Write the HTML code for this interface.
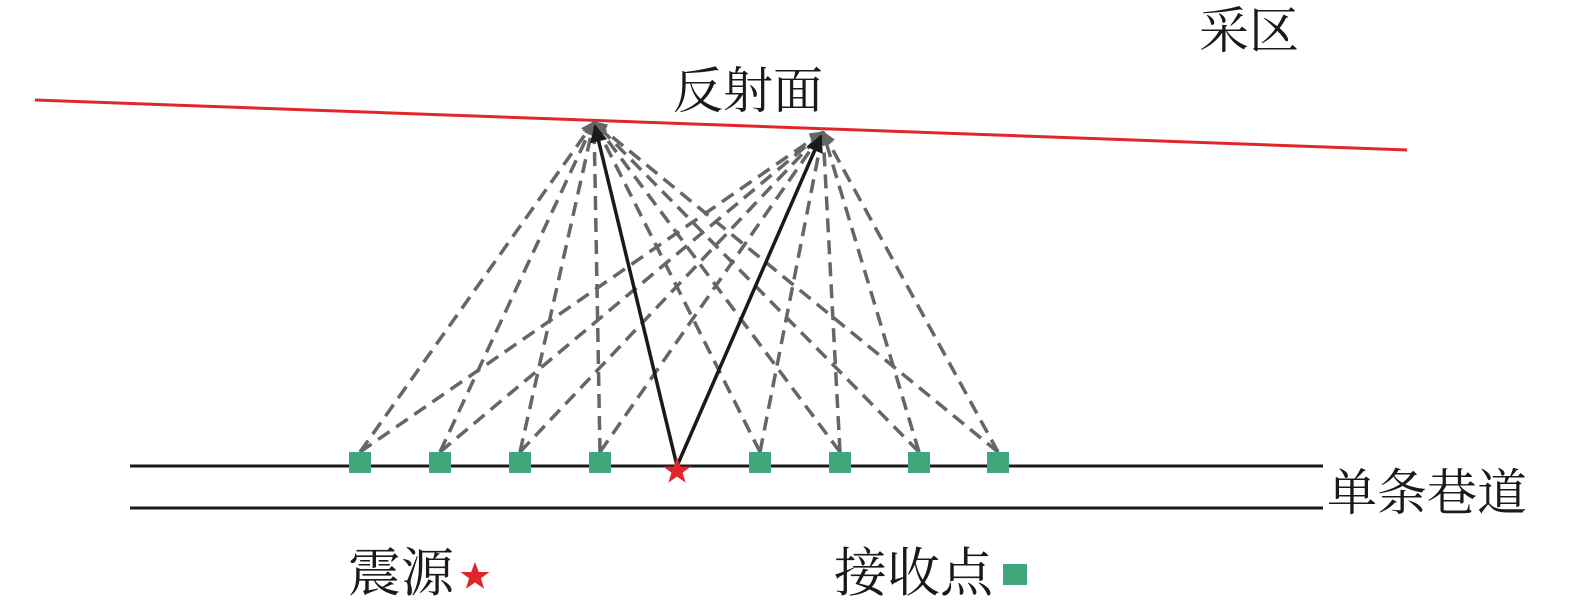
<!DOCTYPE html>
<html><head><meta charset="utf-8"><style>
html,body{margin:0;padding:0;background:#fff;}
svg{display:block;}
text{font-family:"Liberation Serif","Noto Serif CJK SC",serif;fill:#1a1a1a;}
</style></head><body>
<svg width="1575" height="603" viewBox="0 0 1575 603" xmlns="http://www.w3.org/2000/svg">
<defs>
<marker id="ga" viewBox="0 0 10 10" refX="9" refY="5" markerWidth="4" markerHeight="4" orient="auto"><path d="M0,0L10,5L0,10z" fill="#666"/></marker>
<marker id="ba" viewBox="0 0 10 10" refX="9" refY="5" markerWidth="5" markerHeight="5" orient="auto"><path d="M0,0L10,5L0,10z" fill="#1a1a1a"/></marker>
</defs>
<text x="1199" y="48" font-size="50">采区</text>
<text x="673" y="108" font-size="50">反射面</text>
<line x1="35" y1="100" x2="1407" y2="150" stroke="#e0262b" stroke-width="3"/>
<g stroke="#666" stroke-width="3.5" stroke-dasharray="14,8" fill="none" marker-end="url(#ga)">
<line x1="360" y1="452" x2="594" y2="122"/>
<line x1="440" y1="452" x2="594" y2="122"/>
<line x1="520" y1="452" x2="594" y2="122"/>
<line x1="600" y1="452" x2="594" y2="122"/>
<line x1="760" y1="452" x2="594" y2="122"/>
<line x1="840" y1="452" x2="594" y2="122"/>
<line x1="919" y1="452" x2="594" y2="122"/>
<line x1="998" y1="452" x2="594" y2="122"/>
<line x1="360" y1="452" x2="823" y2="132"/>
<line x1="440" y1="452" x2="823" y2="132"/>
<line x1="520" y1="452" x2="823" y2="132"/>
<line x1="600" y1="452" x2="823" y2="132"/>
<line x1="760" y1="452" x2="823" y2="132"/>
<line x1="840" y1="452" x2="823" y2="132"/>
<line x1="919" y1="452" x2="823" y2="132"/>
<line x1="998" y1="452" x2="823" y2="132"/>
</g>
<line x1="130" y1="466" x2="1323" y2="466" stroke="#1a1a1a" stroke-width="3"/>
<line x1="130" y1="508" x2="1323" y2="508" stroke="#1a1a1a" stroke-width="3"/>
<g stroke="#1a1a1a" stroke-width="3.5" marker-end="url(#ba)">
<line x1="677" y1="466" x2="595" y2="126"/>
<line x1="677" y1="466" x2="821" y2="136"/>
</g>
<g fill="#3fa77a">
<rect x="349" y="452" width="22" height="21"/>
<rect x="429" y="452" width="22" height="21"/>
<rect x="509" y="452" width="22" height="21"/>
<rect x="589" y="452" width="22" height="21"/>
<rect x="749" y="452" width="22" height="21"/>
<rect x="829" y="452" width="22" height="21"/>
<rect x="908" y="452" width="22" height="21"/>
<rect x="987" y="452" width="22" height="21"/>
<rect x="1003" y="564" width="24" height="21"/>
</g>
<polygon fill="#e0262b" points="677,457 680.6,466.6 690.8,466.6 682.6,472.6 685.6,482.6 677,476.6 668.4,482.6 671.4,472.6 663.2,466.6 673.4,466.6"/>
<polygon fill="#e0262b" points="475,562 478.8,572 489.5,572 480.9,578.3 484.1,588.8 475,582.5 465.9,588.8 469.1,578.3 460.5,572 471.2,572"/>
<text x="1327" y="510" font-size="50">单条巷道</text>
<text x="348" y="591" font-size="53">震源</text>
<text x="834" y="591" font-size="53">接收点</text>
</svg>
</body></html>
